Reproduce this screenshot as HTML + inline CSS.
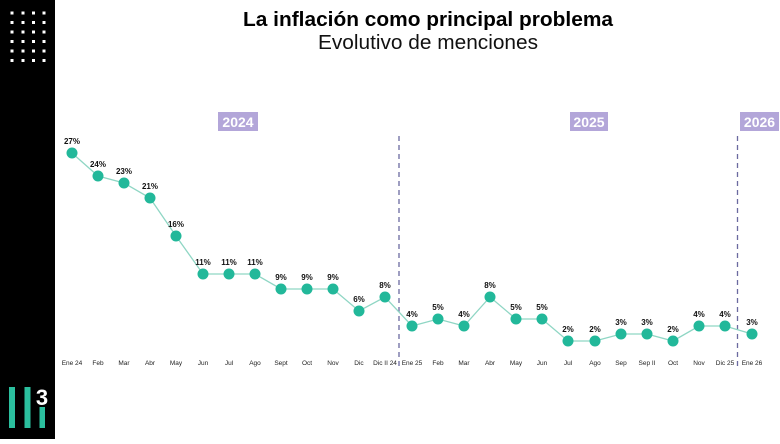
<!DOCTYPE html>
<html><head><meta charset="utf-8"><style>
body{margin:0;width:780px;height:439px;overflow:hidden;background:#fff;font-family:"Liberation Sans",sans-serif}
</style></head><body>
<svg width="780" height="439" xmlns="http://www.w3.org/2000/svg" font-family="Liberation Sans, sans-serif">
<rect x="0" y="0" width="55" height="439" fill="#000"/>
<g fill="#fff">
<g id="r"><rect x="10.5" y="11.5" width="3" height="3"/><rect x="21.5" y="11.5" width="3" height="3"/><rect x="32" y="11.5" width="3" height="3"/><rect x="42.5" y="11.5" width="3" height="3"/></g>
<use href="#r" y="9.5"/><use href="#r" y="19"/><use href="#r" y="28.5"/><use href="#r" y="38"/><use href="#r" y="47.5"/>
</g>
<g fill="#2bbf9e">
<rect x="9" y="387" width="6" height="41"/><rect x="24.5" y="387" width="6" height="41"/><rect x="39.5" y="407" width="5.5" height="21"/>
</g>
<text x="42" y="405" fill="#fff" font-size="22" font-weight="bold" text-anchor="middle">3</text>
<text x="428" y="26" font-size="20" font-weight="bold" text-anchor="middle" fill="#000" textLength="370" lengthAdjust="spacingAndGlyphs">La inflación como principal problema</text>
<text x="428" y="49" font-size="20" text-anchor="middle" fill="#111" textLength="220" lengthAdjust="spacingAndGlyphs">Evolutivo de menciones</text>
<g font-size="14" font-weight="bold" fill="#fff" text-anchor="middle">
<rect x="218" y="112" width="40" height="19" fill="#b3a6d9"/><text x="238" y="127">2024</text>
<rect x="570" y="112" width="38" height="19" fill="#b3a6d9"/><text x="589" y="127">2025</text>
<rect x="740" y="112" width="39" height="19" fill="#b3a6d9"/><text x="759.5" y="127">2026</text>
</g>
<g stroke="#6b6aa0" stroke-width="1.3" stroke-dasharray="5,4">
<line x1="399" y1="136" x2="399" y2="368"/><line x1="737.5" y1="136" x2="737.5" y2="368"/>
</g>
<polyline fill="none" stroke="#8fd6c4" stroke-width="1.3" points="72,153 98,176 124,183 150,198 176,236 203,274 229,274 255,274 281,289 307,289 333,289 359,311 385,297 412,326 438,319 464,326 490,297 516,319 542,319 568,341 595,341 621,334 647,334 673,341 699,326 725,326 752,334"/>
<g fill="#22b89a">
<circle cx="72" cy="153" r="5.5"/><circle cx="98" cy="176" r="5.5"/><circle cx="124" cy="183" r="5.5"/><circle cx="150" cy="198" r="5.5"/><circle cx="176" cy="236" r="5.5"/><circle cx="203" cy="274" r="5.5"/><circle cx="229" cy="274" r="5.5"/><circle cx="255" cy="274" r="5.5"/><circle cx="281" cy="289" r="5.5"/><circle cx="307" cy="289" r="5.5"/><circle cx="333" cy="289" r="5.5"/><circle cx="359" cy="311" r="5.5"/><circle cx="385" cy="297" r="5.5"/><circle cx="412" cy="326" r="5.5"/><circle cx="438" cy="319" r="5.5"/><circle cx="464" cy="326" r="5.5"/><circle cx="490" cy="297" r="5.5"/><circle cx="516" cy="319" r="5.5"/><circle cx="542" cy="319" r="5.5"/><circle cx="568" cy="341" r="5.5"/><circle cx="595" cy="341" r="5.5"/><circle cx="621" cy="334" r="5.5"/><circle cx="647" cy="334" r="5.5"/><circle cx="673" cy="341" r="5.5"/><circle cx="699" cy="326" r="5.5"/><circle cx="725" cy="326" r="5.5"/><circle cx="752" cy="334" r="5.5"/>
</g>
<g font-size="8" font-weight="bold" fill="#111" text-anchor="middle">
<text x="72" y="144">27%</text><text x="98" y="167">24%</text><text x="124" y="174">23%</text><text x="150" y="189">21%</text><text x="176" y="227">16%</text><text x="203" y="265">11%</text><text x="229" y="265">11%</text><text x="255" y="265">11%</text><text x="281" y="280">9%</text><text x="307" y="280">9%</text><text x="333" y="280">9%</text><text x="359" y="302">6%</text><text x="385" y="288">8%</text><text x="412" y="317">4%</text><text x="438" y="310">5%</text><text x="464" y="317">4%</text><text x="490" y="288">8%</text><text x="516" y="310">5%</text><text x="542" y="310">5%</text><text x="568" y="332">2%</text><text x="595" y="332">2%</text><text x="621" y="325">3%</text><text x="647" y="325">3%</text><text x="673" y="332">2%</text><text x="699" y="317">4%</text><text x="725" y="317">4%</text><text x="752" y="325">3%</text>
</g>
<g font-size="6.5" fill="#222" text-anchor="middle">
<text x="72" y="365">Ene 24</text><text x="98" y="365">Feb</text><text x="124" y="365">Mar</text><text x="150" y="365">Abr</text><text x="176" y="365">May</text><text x="203" y="365">Jun</text><text x="229" y="365">Jul</text><text x="255" y="365">Ago</text><text x="281" y="365">Sept</text><text x="307" y="365">Oct</text><text x="333" y="365">Nov</text><text x="359" y="365">Dic</text><text x="385" y="365">Dic II 24</text><text x="412" y="365">Ene 25</text><text x="438" y="365">Feb</text><text x="464" y="365">Mar</text><text x="490" y="365">Abr</text><text x="516" y="365">May</text><text x="542" y="365">Jun</text><text x="568" y="365">Jul</text><text x="595" y="365">Ago</text><text x="621" y="365">Sep</text><text x="647" y="365">Sep II</text><text x="673" y="365">Oct</text><text x="699" y="365">Nov</text><text x="725" y="365">Dic 25</text><text x="752" y="365">Ene 26</text>
</g>
</svg>
</body></html>
